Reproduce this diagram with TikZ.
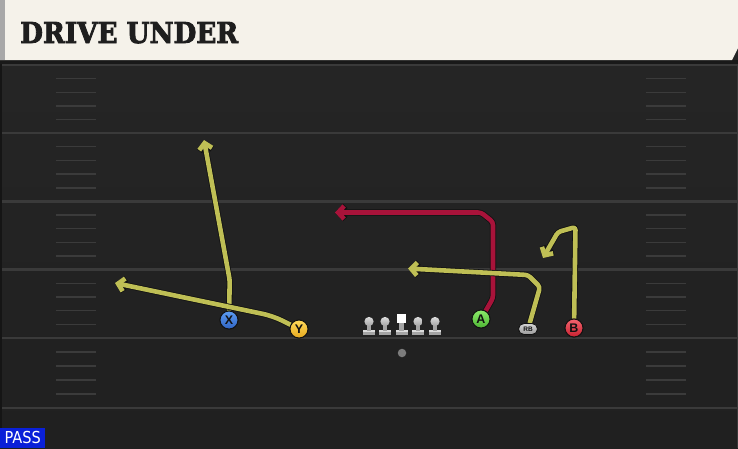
\documentclass[tikz,border=0pt]{standalone}
\usepackage{fontspec}
\setmainfont{Liberation Sans}
\newfontfamily\titlefont{DejaVu Serif}[BoldFeatures={FakeBold=3}]
\newfontfamily\labfont{Liberation Sans}
\newfontfamily\passfont{DejaVu Sans}
\usetikzlibrary{arrows.meta,shapes.misc}
\definecolor{field}{HTML}{262626}
\definecolor{fieldlow}{HTML}{202020}
\definecolor{yardc}{HTML}{3A3A3A}
\definecolor{hashc}{HTML}{3B3B3B}
\definecolor{banner}{HTML}{F5F2EA}
\definecolor{bannerside}{HTML}{A8A8A8}
\definecolor{titlec}{HTML}{1E1E1E}
\definecolor{routey}{HTML}{BFBF55}
\definecolor{router}{HTML}{A8133A}
\definecolor{outl}{HTML}{111111}
\definecolor{xtop}{HTML}{5C9CF2}
\definecolor{xbot}{HTML}{2F63C2}
\definecolor{ytop}{HTML}{FFD95A}
\definecolor{ybot}{HTML}{E6A91E}
\definecolor{atop}{HTML}{8CEB6A}
\definecolor{abot}{HTML}{4DB534}
\definecolor{btop}{HTML}{F2646E}
\definecolor{bbot}{HTML}{C8202F}
\definecolor{rbtop}{HTML}{D4D4D4}
\definecolor{rbbot}{HTML}{9A9A9A}
\definecolor{lmtop}{HTML}{DCDCDC}
\definecolor{lmbot}{HTML}{A4A4A4}
\definecolor{qbc}{HTML}{7C7C7C}
\definecolor{passc}{HTML}{0A20D8}
\tikzset{
  yardline/.style={draw=yardc, line width=2.2pt},
  hashmark/.style={draw=hashc, line width=1.4pt},
  route/.style={line width=4.6pt, line join=round, rounded corners=3pt,
    -{Straight Barb[length=6pt,width=13pt]},
    preaction={draw=outl, line width=6.2pt}},
  yroute/.style={route, draw=routey},
  rroute/.style={route, draw=router},
  player/.style={circle, minimum size=18pt, inner sep=0pt, draw=outl, line width=0.9pt,
    font=\labfont\bfseries\fontsize{12.5}{12.5}\selectfont, text=outl},
  rbstyle/.style={rounded rectangle, minimum width=19pt, minimum height=11pt, inner sep=0pt,
    top color=rbtop, bottom color=rbbot, draw=outl, line width=0.8pt,
    font=\labfont\bfseries\fontsize{6.5}{6.5}\selectfont, text=outl},
  lineman/.pic={
    \fill[lmbot] (-6,-5) rectangle (6,0);
    \fill[lmtop] (-6,-5) rectangle (6,-3);
    \fill[lmbot] (-2.2,-10) rectangle (2.2,-4.5);
    \shade[top color=lmtop, bottom color=lmbot] (0,-13.5) circle (4.6);
  },
  centerman/.pic={
    \fill[lmbot] (-6,-5) rectangle (6,0);
    \fill[lmtop] (-6,-5) rectangle (6,-3);
    \fill[lmbot] (-2.2,-12.5) rectangle (2.2,-4.5);
    \fill[white] (-4.4,-21.5) rectangle (4.4,-12.5);
  }
}
\begin{document}
\begin{tikzpicture}[x=1pt,y=-1pt]
\useasboundingbox (0,0) rectangle (738,448);
% field
\shade[top color=field, bottom color=fieldlow] (0,0) rectangle (738,448);
\fill[black!45!field] (0,0) rectangle (2,448);
\fill[yardc] (736.5,60) rectangle (738,448);
% yard lines
\foreach \yy in {65,133,201.5,269.5,338,408}
  \draw[yardline] (2,\yy) -- (736.5,\yy);
% hash marks
\foreach \ya/\yb in {65/133,133/201.5,201.5/269.5,269.5/338,338/408}{
  \foreach \k in {1,2,3,4}{
    \draw[hashmark] (56,{\ya+\k*(\yb-\ya)/5}) -- (96,{\ya+\k*(\yb-\ya)/5});
    \draw[hashmark] (646,{\ya+\k*(\yb-\ya)/5}) -- (686,{\ya+\k*(\yb-\ya)/5});
  }
}
% banner
\fill[black!90] (0,60) rectangle (738,64);
\fill[banner] (0,0) -- (738,0) -- (738,48) -- (732,60) -- (0,60) -- cycle;
\fill[bannerside] (0,0) rectangle (5,60);
\node[anchor=base west, inner sep=0pt, text=titlec] (title) at (20,43)
  {\resizebox{218pt}{21pt}{\titlefont\bfseries DRIVE UNDER}};
% players
\node[player, top color=xtop, bottom color=xbot] (X) at (229,320) {X};
\node[player, top color=ytop, bottom color=ybot] (Y) at (299,329) {Y};
\node[player, top color=atop, bottom color=abot] (A) at (481,319) {A};
\node[player, top color=btop, bottom color=bbot] (B) at (574,328) {B};
\node[rbstyle] (RB) at (528,329) {RB};
% route waypoints
\coordinate (x1) at (229.7,280);
\coordinate (xend) at (204,140);
\coordinate (y1) at (273,316);
\coordinate (yend) at (115,283);
\coordinate (a1) at (493,298);
\coordinate (a2) at (493,222);
\coordinate (a3) at (481,212.5);
\coordinate (aend) at (335,212.5);
\coordinate (r1) at (540,287);
\coordinate (r2) at (528,275);
\coordinate (rend) at (408,268.5);
\coordinate (b1) at (575.5,227);
\coordinate (b2) at (558,232);
\coordinate (bend) at (543,258);
% routes
\draw[yroute] (X) -- (x1) -- (xend);
\draw[yroute, rounded corners=10pt] (Y) -- (y1) -- (yend);
\draw[rroute] (A) -- (a1) -- (a2) -- (a3) -- (aend);
\draw[yroute] (RB) -- (r1) -- (r2) -- (rend);
\draw[yroute] (B) -- (b1) -- (b2) -- (bend);
% redraw players on top of the route starts
\node[player, top color=xtop, bottom color=xbot] at (X) {X};
\node[player, top color=ytop, bottom color=ybot] at (Y) {Y};
\node[player, top color=atop, bottom color=abot] at (A) {A};
\node[player, top color=btop, bottom color=bbot] at (B) {B};
\node[rbstyle] at (RB) {RB};
% offensive line
\pic (lt) at (369,335) {lineman};
\pic (lg) at (385,335) {lineman};
\pic (c) at (401.5,335) {centerman};
\pic (rg) at (418,335) {lineman};
\pic (rt) at (435,335) {lineman};
\node[circle, fill=qbc, minimum size=8.5pt, inner sep=0pt] (qb) at (402,353) {};
% pass label
\node[anchor=south west, fill=passc, minimum width=45pt, minimum height=20pt, inner sep=0pt,
  text=white] (pass) at (0,448) {\scalebox{0.88}[1]{\passfont\fontsize{16.5}{16.5}\selectfont PASS}};
\end{tikzpicture}
\end{document}
